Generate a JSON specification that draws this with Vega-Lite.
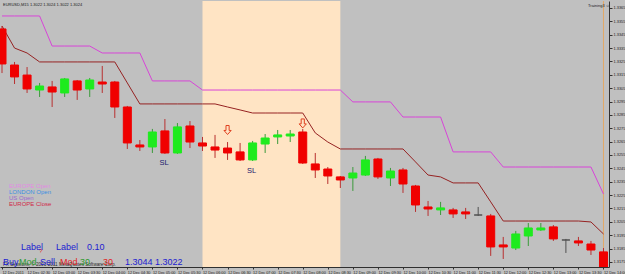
{
  "$schema": "https://vega.github.io/schema/vega-lite/v6.json",
  "width": 609,
  "height": 266,
  "padding": 0,
  "background": "#C0C0C0",
  "config": {"view": {"stroke": null}},
  "datasets": {
    "sessions": [{"s": 16, "e": 27}],
    "current": [{"at": 48}],
    "candles": [
      {"i":0,"o":1.33493,"h":1.33515,"l":1.33163,"c":1.33231,"up":1.33590,"dn":1.33515},
      {"i":1,"o":1.33223,"h":1.33246,"l":1.33081,"c":1.33134,"up":1.33590,"dn":1.33350},
      {"i":2,"o":1.33148,"h":1.33208,"l":1.33014,"c":1.33044,"up":1.33590,"dn":1.33313},
      {"i":3,"o":1.33036,"h":1.33089,"l":1.32984,"c":1.33066,"up":1.33590,"dn":1.33246},
      {"i":4,"o":1.33059,"h":1.33104,"l":1.32909,"c":1.33021,"up":1.33365,"dn":1.33246},
      {"i":5,"o":1.33014,"h":1.33126,"l":1.32984,"c":1.33119,"up":1.33365,"dn":1.33246},
      {"i":6,"o":1.33104,"h":1.33111,"l":1.32962,"c":1.33036,"up":1.33365,"dn":1.33246},
      {"i":7,"o":1.33044,"h":1.33126,"l":1.32984,"c":1.33111,"up":1.33365,"dn":1.33246},
      {"i":8,"o":1.33096,"h":1.33216,"l":1.33014,"c":1.33081,"up":1.33313,"dn":1.33246},
      {"i":9,"o":1.33096,"h":1.33104,"l":1.32827,"c":1.32909,"up":1.33313,"dn":1.33246},
      {"i":10,"o":1.32909,"h":1.32917,"l":1.32595,"c":1.32640,"up":1.33313,"dn":1.33089},
      {"i":11,"o":1.32625,"h":1.32662,"l":1.32580,"c":1.32610,"up":1.33313,"dn":1.32932},
      {"i":12,"o":1.32610,"h":1.32745,"l":1.32565,"c":1.32722,"up":1.33104,"dn":1.32932},
      {"i":13,"o":1.32730,"h":1.32819,"l":1.32558,"c":1.32565,"up":1.33104,"dn":1.32932},
      {"i":14,"o":1.32565,"h":1.32789,"l":1.32558,"c":1.32760,"up":1.33104,"dn":1.32932},
      {"i":15,"o":1.32767,"h":1.32804,"l":1.32602,"c":1.32647,"up":1.33104,"dn":1.32932},
      {"i":16,"o":1.32640,"h":1.32685,"l":1.32580,"c":1.32617,"up":1.33036,"dn":1.32932},
      {"i":17,"o":1.32610,"h":1.32700,"l":1.32528,"c":1.32587,"up":1.33036,"dn":1.32932},
      {"i":18,"o":1.32602,"h":1.32647,"l":1.32513,"c":1.32565,"up":1.33036,"dn":1.32909},
      {"i":19,"o":1.32573,"h":1.32640,"l":1.32505,"c":1.32513,"up":1.33036,"dn":1.32887},
      {"i":20,"o":1.32513,"h":1.32655,"l":1.32505,"c":1.32640,"up":1.33036,"dn":1.32864},
      {"i":21,"o":1.32632,"h":1.32707,"l":1.32565,"c":1.32677,"up":1.33036,"dn":1.32864},
      {"i":22,"o":1.32685,"h":1.32737,"l":1.32632,"c":1.32700,"up":1.33036,"dn":1.32864},
      {"i":23,"o":1.32692,"h":1.32737,"l":1.32647,"c":1.32707,"up":1.33036,"dn":1.32864},
      {"i":24,"o":1.32722,"h":1.32745,"l":1.32483,"c":1.32490,"up":1.33036,"dn":1.32864},
      {"i":25,"o":1.32483,"h":1.32565,"l":1.32378,"c":1.32438,"up":1.33036,"dn":1.32715},
      {"i":26,"o":1.32445,"h":1.32460,"l":1.32333,"c":1.32393,"up":1.33036,"dn":1.32647},
      {"i":27,"o":1.32386,"h":1.32393,"l":1.32303,"c":1.32363,"up":1.33036,"dn":1.32595},
      {"i":28,"o":1.32378,"h":1.32460,"l":1.32281,"c":1.32415,"up":1.32947,"dn":1.32595},
      {"i":29,"o":1.32400,"h":1.32543,"l":1.32393,"c":1.32513,"up":1.32947,"dn":1.32595},
      {"i":30,"o":1.32520,"h":1.32528,"l":1.32371,"c":1.32386,"up":1.32947,"dn":1.32595},
      {"i":31,"o":1.32378,"h":1.32453,"l":1.32318,"c":1.32430,"up":1.32947,"dn":1.32595},
      {"i":32,"o":1.32438,"h":1.32453,"l":1.32266,"c":1.32333,"up":1.32834,"dn":1.32595},
      {"i":33,"o":1.32318,"h":1.32326,"l":1.32124,"c":1.32176,"up":1.32834,"dn":1.32498},
      {"i":34,"o":1.32161,"h":1.32206,"l":1.32094,"c":1.32146,"up":1.32834,"dn":1.32400},
      {"i":35,"o":1.32139,"h":1.32199,"l":1.32101,"c":1.32154,"up":1.32834,"dn":1.32386},
      {"i":36,"o":1.32139,"h":1.32154,"l":1.32079,"c":1.32109,"up":1.32573,"dn":1.32341},
      {"i":37,"o":1.32124,"h":1.32154,"l":1.32071,"c":1.32109,"up":1.32573,"dn":1.32341},
      {"i":38,"o":1.32101,"h":1.32161,"l":1.32094,"c":1.32101,"up":1.32573,"dn":1.32341},
      {"i":39,"o":1.32094,"h":1.32109,"l":1.31795,"c":1.31862,"up":1.32573,"dn":1.32199},
      {"i":40,"o":1.31877,"h":1.31937,"l":1.31772,"c":1.31862,"up":1.32460,"dn":1.32056},
      {"i":41,"o":1.31854,"h":1.31982,"l":1.31839,"c":1.31959,"up":1.32460,"dn":1.32056},
      {"i":42,"o":1.31944,"h":1.32041,"l":1.31869,"c":1.32004,"up":1.32460,"dn":1.32056},
      {"i":43,"o":1.31989,"h":1.32041,"l":1.31982,"c":1.32004,"up":1.32460,"dn":1.32056},
      {"i":44,"o":1.32012,"h":1.32026,"l":1.31907,"c":1.31922,"up":1.32460,"dn":1.32056},
      {"i":45,"o":1.31914,"h":1.31922,"l":1.31817,"c":1.31914,"up":1.32460,"dn":1.32056},
      {"i":46,"o":1.31907,"h":1.31937,"l":1.31869,"c":1.31892,"up":1.32460,"dn":1.32056},
      {"i":47,"o":1.31884,"h":1.31907,"l":1.31802,"c":1.31839,"up":1.32460,"dn":1.32049},
      {"i":48,"o":1.31825,"h":1.31854,"l":1.31712,"c":1.31712,"up":1.32258,"dn":1.31959}
    ],
    "arrows": [
      {"i":18,"p":1.32737},
      {"i":24,"p":1.32786}
    ],
    "notes": [
      {"i":0.08,"p":1.33672,"text":"EURUSD,M15  1.3022 1.3024 1.3022 1.3024","kind":"title"},
      {"i":46.77,"p":1.33665,"text":"Training3 ☺","kind":"ea"},
      {"i":0.56,"p":1.32318,"text":"EUROPE Open","kind":"eo"},
      {"i":0.56,"p":1.32273,"text":"LONDON Open","kind":"lo"},
      {"i":0.56,"p":1.32228,"text":"US Open","kind":"uso"},
      {"i":0.56,"p":1.32184,"text":"EUROPE Close","kind":"ec"},
      {"i":1.52,"p":1.31862,"text":"Label","kind":"blue"},
      {"i":4.31,"p":1.31862,"text":"Label","kind":"blue"},
      {"i":6.78,"p":1.31862,"text":"0.10","kind":"blue"},
      {"i":2.95,"p":1.31832,"text":"?","kind":"q"},
      {"i":0.08,"p":1.31727,"text":"FX Sessions, © 2001-2011 MetaQuotes Software Corp.","kind":"small"},
      {"i":0.08,"p":1.31750,"text":"Buy","kind":"blue"},
      {"i":1.36,"p":1.31750,"text":"Mod","kind":"green"},
      {"i":3.03,"p":1.31750,"text":"Sell","kind":"blue"},
      {"i":4.63,"p":1.31750,"text":"Mod","kind":"red"},
      {"i":6.23,"p":1.31750,"text":"30","kind":"green"},
      {"i":8.06,"p":1.31750,"text":"30","kind":"red"},
      {"i":9.82,"p":1.31750,"text":"1.3044","kind":"blue"},
      {"i":12.21,"p":1.31750,"text":"1.3022","kind":"blue"},
      {"i":12.57,"p":1.32490,"text":"SL","kind":"sl"},
      {"i":19.55,"p":1.32430,"text":"SL","kind":"sl"}
    ]
  },
  "layer": [
    {
      "data": {"name": "candles"},
      "mark": {"type": "rule", "strokeWidth": 1, "clip": true, "opacity": 0},
      "encoding": {
        "x": {
          "field": "i", "type": "quantitative", "title": null,
          "scale": {"domain": [-0.16, 48.44], "nice": false, "zero": false, "padding": 0},
          "axis": {
            "orient": "bottom", "title": null, "grid": false, "tickCount": 200,
            "values": [0,2,4,6,8,10,12,14,16,18,20,22,24,26,28,30,32,34,36,38,40,42,44,46,48],
            "labelExpr": "datum.value == 0 ? '12 Dec 2011' : '12 Dec ' + ((2 + floor(datum.value / 4)) < 10 ? '0' : '') + (2 + floor(datum.value / 4)) + ':' + (datum.value % 4 == 0 ? '00' : '30')",
            "labelAlign": "left", "labelBaseline": "top", "labelPadding": 1,
            "tickSize": 2, "labelFontSize": 3.8, "labelFont": "Liberation Sans",
            "labelColor": "#202020", "domainColor": "#303030", "tickColor": "#303030",
            "labelOverlap": false, "labelFlush": false, "labelBound": false
          }
        },
        "y": {
          "field": "l", "type": "quantitative", "title": null,
          "scale": {"domain": [1.31712, 1.33702], "nice": false, "zero": false, "padding": 0},
          "axis": {
            "orient": "right", "title": null, "grid": false, "tickCount": 200,
            "values": [1.3175,1.3185,1.3195,1.3205,1.3215,1.3225,1.3235,1.3245,1.3255,1.3265,1.3275,1.3285,1.3295,1.3305,1.3315,1.3325,1.3335,1.3345,1.3355,1.3365],
            "format": ".4f", "tickSize": 3, "labelPadding": 1,
            "labelFontSize": 3.9, "labelFont": "Liberation Sans",
            "labelColor": "#202020", "domainColor": "#303030", "tickColor": "#303030",
            "labelOverlap": false, "labelFlush": false, "labelBound": false
          }
        },
        "y2": {"field": "h"}
      }
    },
    {
      "data": {"name": "sessions"},
      "mark": {"type": "rect", "color": "#FFE4C4"},
      "encoding": {
        "x": {"field": "s", "type": "quantitative", "title": null},
        "x2": {"field": "e"}
      }
    },
    {
      "data": {"name": "current"},
      "mark": {"type": "rule", "color": "#E0A868", "strokeWidth": 1},
      "encoding": {
        "x": {"field": "at", "type": "quantitative", "title": null}
      }
    },
    {
      "data": {"name": "candles"},
      "mark": {"type": "line", "color": "#D844D8", "strokeWidth": 1, "clip": true},
      "encoding": {
        "x": {"field": "i", "type": "quantitative", "title": null},
        "y": {"field": "up", "type": "quantitative", "title": null}
      }
    },
    {
      "data": {"name": "candles"},
      "mark": {"type": "line", "color": "#962222", "strokeWidth": 1, "clip": true},
      "encoding": {
        "x": {"field": "i", "type": "quantitative", "title": null},
        "y": {"field": "dn", "type": "quantitative", "title": null}
      }
    },
    {
      "data": {"name": "candles"},
      "mark": {"type": "rule", "strokeWidth": 1, "clip": true},
      "encoding": {
        "x": {"field": "i", "type": "quantitative", "title": null},
        "y": {"field": "l", "type": "quantitative", "title": null},
        "y2": {"field": "h"},
        "stroke": {
          "condition": [
            {"test": "datum.c > datum.o", "value": "#3A9A3A"},
            {"test": "datum.c < datum.o", "value": "#B83030"}
          ],
          "value": "#505050"
        }
      }
    },
    {
      "data": {"name": "candles"},
      "mark": {"type": "bar", "size": 8, "strokeWidth": 1, "clip": true},
      "encoding": {
        "x": {"field": "i", "type": "quantitative", "title": null},
        "y": {"field": "o", "type": "quantitative", "title": null},
        "y2": {"field": "c"},
        "fill": {
          "condition": [
            {"test": "datum.c > datum.o", "value": "#1EEB1E"},
            {"test": "datum.c < datum.o", "value": "#F00000"}
          ],
          "value": "#505050"
        },
        "stroke": {
          "condition": [
            {"test": "datum.c > datum.o", "value": "#1EEB1E"},
            {"test": "datum.c < datum.o", "value": "#F00000"}
          ],
          "value": "#505050"
        }
      }
    },
    {
      "data": {"name": "arrows"},
      "mark": {
        "type": "point",
        "shape": "M-0.35,-1L0.35,-1L0.35,0.1L0.8,0.1L0,1L-0.8,0.1L-0.35,0.1Z",
        "filled": false, "color": "#E04020", "strokeWidth": 1, "size": 81, "opacity": 1
      },
      "encoding": {
        "x": {"field": "i", "type": "quantitative", "title": null},
        "y": {"field": "p", "type": "quantitative", "title": null}
      }
    },
    {
      "data": {"name": "notes"},
      "transform": [{"filter": {"field": "kind", "oneOf": ["title", "ea"]}}],
      "mark": {"type": "text", "fontSize": 4, "font": "Liberation Sans", "align": "left", "baseline": "middle"},
      "encoding": {
        "x": {"field": "i", "type": "quantitative", "title": null},
        "y": {"field": "p", "type": "quantitative", "title": null},
        "text": {"field": "text"},
        "color": {"field": "kind", "type": "nominal", "legend": null,
          "scale": {"domain": ["title","ea","eo","lo","uso","ec","blue","green","red","q","small","sl"],
                    "range": ["#1A1A1A","#1A1A1A","#E28AE2","#3A8EE0","#9A6ACF","#D02848","#1C1CD0","#2E9A2E","#E01E1E","#E01E1E","#2A2A2A","#1A1A6E"]}}
      }
    },
    {
      "data": {"name": "notes"},
      "transform": [{"filter": {"field": "kind", "oneOf": ["eo", "lo", "uso", "ec", "q"]}}],
      "mark": {"type": "text", "fontSize": 6, "font": "Liberation Sans", "align": "left", "baseline": "middle"},
      "encoding": {
        "x": {"field": "i", "type": "quantitative", "title": null},
        "y": {"field": "p", "type": "quantitative", "title": null},
        "text": {"field": "text"},
        "color": {"field": "kind", "type": "nominal", "legend": null,
          "scale": {"domain": ["title","ea","eo","lo","uso","ec","blue","green","red","q","small","sl"],
                    "range": ["#1A1A1A","#1A1A1A","#E28AE2","#3A8EE0","#9A6ACF","#D02848","#1C1CD0","#2E9A2E","#E01E1E","#E01E1E","#2A2A2A","#1A1A6E"]}}
      }
    },
    {
      "data": {"name": "notes"},
      "transform": [{"filter": {"field": "kind", "oneOf": ["small"]}}],
      "mark": {"type": "text", "fontSize": 4.6, "font": "Liberation Sans", "align": "left", "baseline": "middle"},
      "encoding": {
        "x": {"field": "i", "type": "quantitative", "title": null},
        "y": {"field": "p", "type": "quantitative", "title": null},
        "text": {"field": "text"},
        "color": {"field": "kind", "type": "nominal", "legend": null,
          "scale": {"domain": ["title","ea","eo","lo","uso","ec","blue","green","red","q","small","sl"],
                    "range": ["#1A1A1A","#1A1A1A","#E28AE2","#3A8EE0","#9A6ACF","#D02848","#1C1CD0","#2E9A2E","#E01E1E","#E01E1E","#2A2A2A","#1A1A6E"]}}
      }
    },
    {
      "data": {"name": "notes"},
      "transform": [{"filter": {"field": "kind", "oneOf": ["blue", "green", "red"]}}],
      "mark": {"type": "text", "fontSize": 9, "font": "Liberation Sans", "align": "left", "baseline": "middle"},
      "encoding": {
        "x": {"field": "i", "type": "quantitative", "title": null},
        "y": {"field": "p", "type": "quantitative", "title": null},
        "text": {"field": "text"},
        "color": {"field": "kind", "type": "nominal", "legend": null,
          "scale": {"domain": ["title","ea","eo","lo","uso","ec","blue","green","red","q","small","sl"],
                    "range": ["#1A1A1A","#1A1A1A","#E28AE2","#3A8EE0","#9A6ACF","#D02848","#1C1CD0","#2E9A2E","#E01E1E","#E01E1E","#2A2A2A","#1A1A6E"]}}
      }
    },
    {
      "data": {"name": "notes"},
      "transform": [{"filter": {"field": "kind", "oneOf": ["sl"]}}],
      "mark": {"type": "text", "fontSize": 7.5, "font": "Liberation Sans", "align": "left", "baseline": "middle"},
      "encoding": {
        "x": {"field": "i", "type": "quantitative", "title": null},
        "y": {"field": "p", "type": "quantitative", "title": null},
        "text": {"field": "text"},
        "color": {"field": "kind", "type": "nominal", "legend": null,
          "scale": {"domain": ["title","ea","eo","lo","uso","ec","blue","green","red","q","small","sl"],
                    "range": ["#1A1A1A","#1A1A1A","#E28AE2","#3A8EE0","#9A6ACF","#D02848","#1C1CD0","#2E9A2E","#E01E1E","#E01E1E","#2A2A2A","#1A1A6E"]}}
      }
    }
  ]
}
